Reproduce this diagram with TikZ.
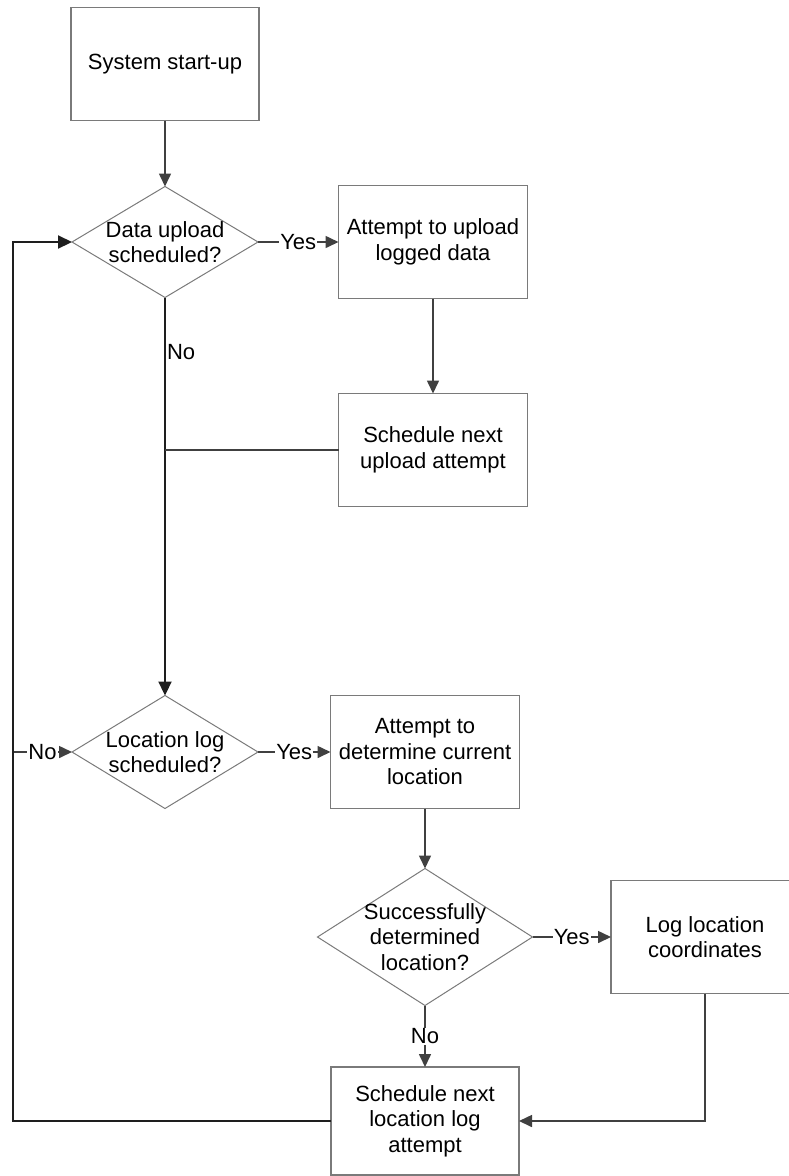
\documentclass[tikz,border=0pt]{standalone}
\usepackage{fontspec}
\setmainfont{Liberation Sans}
\usetikzlibrary{shapes.geometric,arrows.meta,calc}
\definecolor{boxgray}{HTML}{7A7A7A}
\definecolor{linegray}{HTML}{404040}
\definecolor{loopcol}{HTML}{1E1E1E}
\begin{document}
\begin{tikzpicture}[x=1pt,y=-1pt,
  box/.style={draw=boxgray, line width=1.1pt, minimum width=189pt, minimum height=113pt,
    inner sep=0pt, outer sep=0pt, align=center, font=\fontsize{22}{25.5}\selectfont},
  dia/.style={draw=boxgray, line width=1pt, shape=diamond, inner sep=0pt, outer sep=0pt},
  txt/.style={font=\fontsize{22}{25.5}\selectfont, align=center, inner sep=0pt},
  tip/.style={-{Triangle[length=13pt,width=12pt]}},
  conn/.style={draw=linegray, line width=1.6pt, tip},
  plainline/.style={draw=linegray, line width=1.6pt},
  heavy/.style={draw=loopcol, line width=2.2pt},
  lbl/.style={font=\fontsize{22}{26}\selectfont, fill=white, inner sep=1pt},
]
\useasboundingbox (0,0) rectangle (788,1176);

% nodes
\node[box, minimum width=188pt] (s) at (165,64) {System start-up};
\node[dia, minimum width=186pt, minimum height=111pt] (d1) at (165,242) {};
\node[txt] (d1t) at (d1) {Data upload\\scheduled?};
\node[box] (b2) at (433,242) {Attempt to upload\\logged data};
\node[box] (b3) at (433,450) {Schedule next\\upload attempt};
\node[dia, minimum width=186pt, minimum height=113pt] (d2) at (165,752) {};
\node[txt] (d2t) at (d2) {Location log\\scheduled?};
\node[box] (b4) at (425,752) {Attempt to\\determine current\\location};
\node[dia, minimum width=215pt, minimum height=137pt] (d3) at (425,937) {};
\node[txt] (d3t) at (d3) {Successfully\\determined\\location?};
\node[box, minimum width=188pt] (b5) at (705,937) {Log location\\coordinates};
\node[box, minimum width=188pt, minimum height=108pt] (b6) at (425,1121) {Schedule next\\location log\\attempt};

% coordinates
\coordinate (junc) at (b3.west -| d1.south);
\coordinate (nol) at (13,752);
\coordinate (lb) at (13,1121);
\coordinate (lt) at (13,242);

% connectors
\draw[conn] (s.south) -- (d1.north);
\draw[conn] (d1.east) -- node[lbl]{Yes} (b2.west);
\draw[conn] (b2.south) -- (b3.north);
\draw[heavy, -{Triangle[length=14pt,width=13pt]}] (d1.south) -- node[pos=0.136, anchor=west, xshift=1pt, font=\fontsize{22}{26}\selectfont, inner sep=0pt]{No} (d2.north);
\draw[plainline] (b3.west) -- (junc);
\draw[conn] (d2.east) -- node[lbl]{Yes} (b4.west);
\draw[conn] (nol) -- node[lbl]{No} (d2.west);
\draw[heavy, -{Triangle[length=14pt,width=13pt]}] (b6.west) -- (lb) -- (lt) -- (d1.west);
\draw[conn] (b4.south) -- (d3.north);
\draw[conn] (d3.east) -- node[lbl]{Yes} (b5.west);
\draw[conn] (d3.south) -- node[lbl]{No} (b6.north);
\draw[conn] (b5.south) |- (b6.east);
\end{tikzpicture}
\end{document}
